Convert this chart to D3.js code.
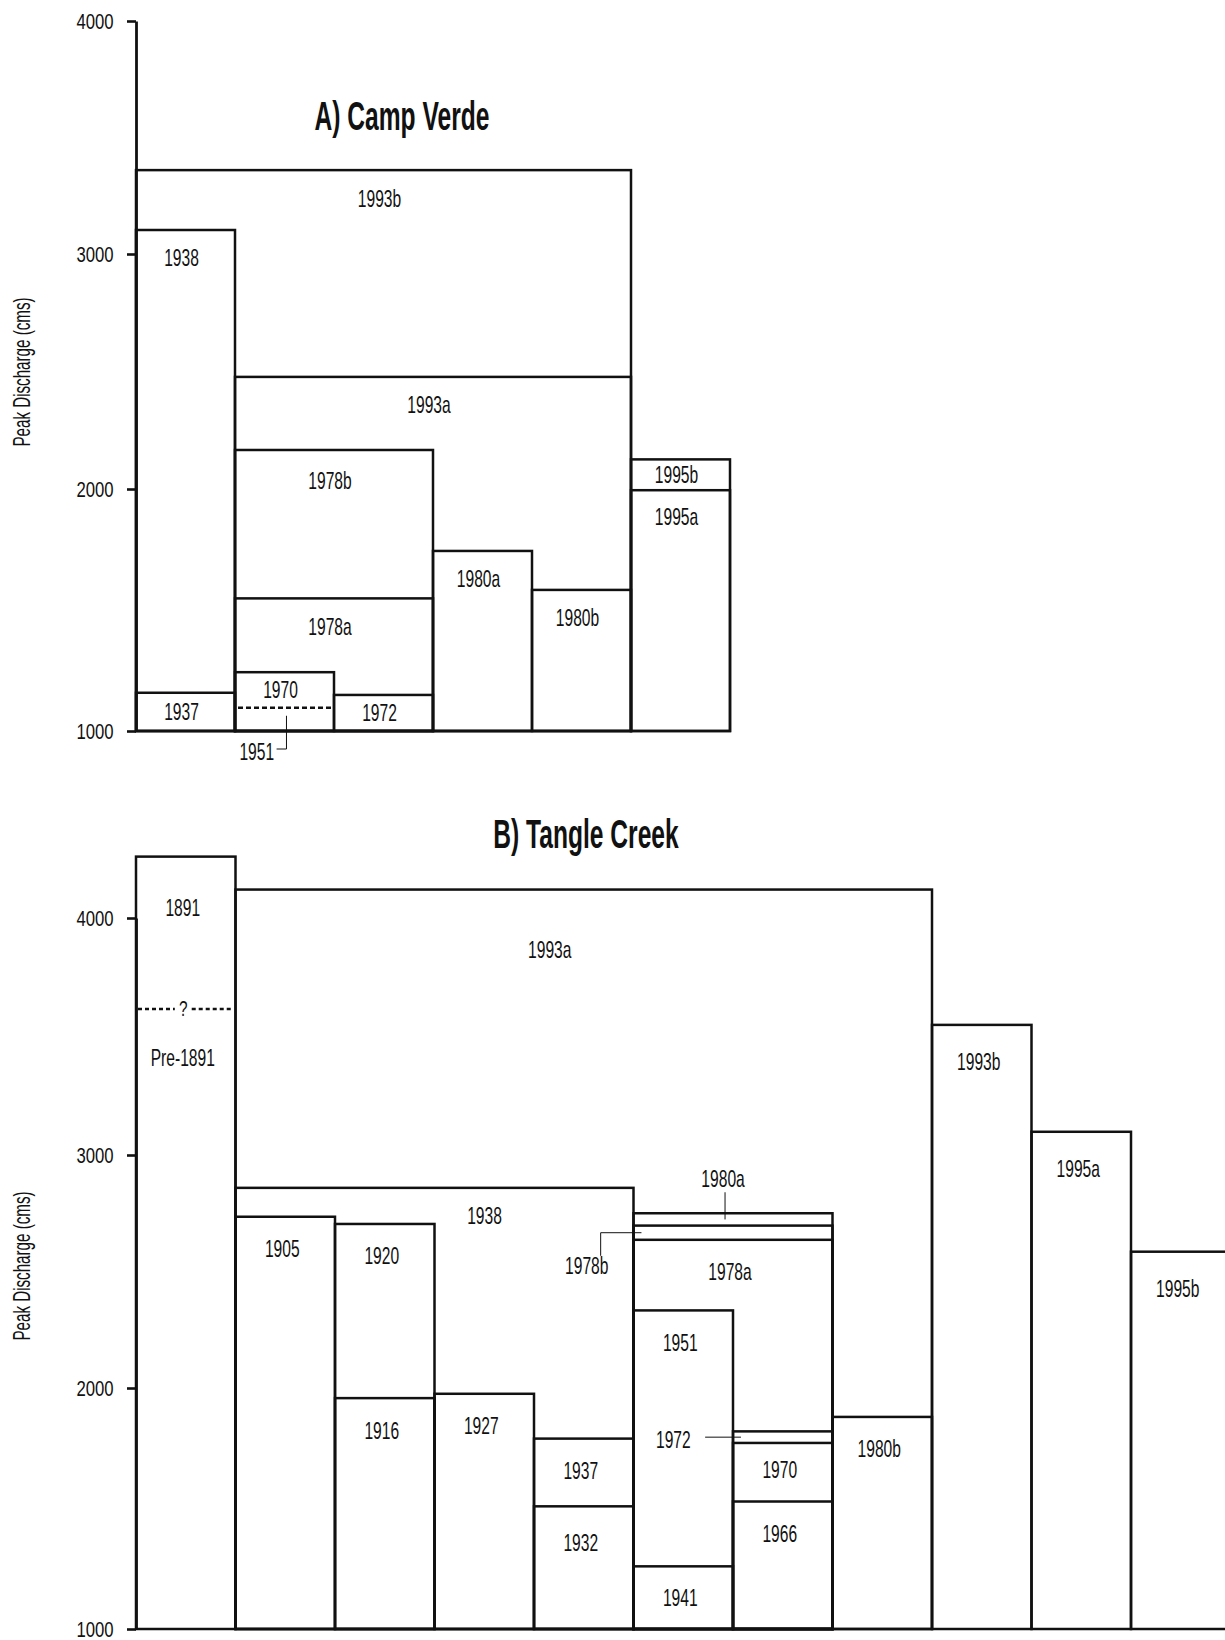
<!DOCTYPE html>
<meta charset="utf-8">
<script src="https://d3js.org/d3.v7.min.js"></script>
<style>
  body { margin: 0; background: #fff; }
  text { font-family: "Liberation Sans", Arial, sans-serif; fill: #111; }
</style>
<div id="my_dataviz"></div>
<script>

// y ticks, same for both panels
var tickVals = [1000, 2000, 3000, 4000];

// A) Camp Verde : flood, first column, last column (exclusive), peak discharge (cms)
var cvNames = ["1993b", "1938", "1993a", "1978b", "1995b", "1995a", "1980a", "1980b", "1978a", "1970", "1972", "1937", "1951"];
var cvFrom  = [0, 0, 1, 1, 5, 5, 3, 4, 1, 1, 2, 0, 1];
var cvTo    = [5, 1, 5, 3, 6, 6, 4, 5, 3, 2, 3, 1, 2];
var cvPeak  = [3360, 3103, 2477, 2166, 2126, 1995, 1744, 1583, 1548, 1243, 1149, 1158, 1096];
var cvDashed = ["1951"];

// B) Tangle Creek
var tcNames = ["1891", "Pre-1891", "1993a", "1938", "1905", "1920", "1916", "1927", "1937", "1932", "1951", "1941",
               "1978a", "1978b", "1980a", "1972", "1970", "1966", "1980b", "1993b", "1995a", "1995b"];
var tcFrom  = [0, 0, 1, 1, 1, 2, 2, 3, 4, 4, 5, 5, 5, 5, 5, 6, 6, 6, 7, 8, 9, 10];
var tcTo    = [1, 1, 8, 5, 2, 3, 3, 4, 5, 5, 6, 6, 7, 7, 7, 7, 7, 7, 8, 9, 10, 11];
var tcPeak  = [4259, 3616, 4120, 2859, 2735, 2704, 1958, 1976, 1790, 1509, 2333, 1260,
               2636, 2697, 2750, 1820, 1772, 1529, 1880, 3549, 3098, 2585];
var tcDashed = ["Pre-1891"];

var svg = d3.select("#my_dataviz")
  .append("svg")
    .attr("width", 1225)
    .attr("height", 1640);

// condensed text helper
function txt(g, x, y, s, size, sx, opts) {
  opts = opts || {};
  return g.append("text")
    .attr("transform", "translate(" + x + "," + y + ")" + (opts.rotate ? " rotate(" + opts.rotate + ")" : "") + " scale(" + sx + ",1)")
    .attr("text-anchor", opts.anchor || "middle")
    .attr("dy", opts.dy == null ? "0.35em" : opts.dy)
    .style("font-size", size + "px")
    .style("font-weight", opts.bold ? "bold" : "normal")
    .text(s);
}

var LBL = 24, LSX = 0.65;   // box label size / horizontal squeeze

function build(names, from, to, peak, dashed) {
  var ev = names.map(function(n, i) {
    return {name: n, from: from[i], to: to[i], peak: peak[i], dashed: dashed.indexOf(n) >= 0};
  });
  // value of the next line below each box (for label placement)
  ev.forEach(function(e) {
    var lower = 1000;
    ev.forEach(function(o) {
      if (o !== e && o.peak < e.peak && o.from < e.to && o.to > e.from) lower = Math.max(lower, o.peak);
    });
    e.lower = lower;
  });
  return ev;
}

function panel(ev, x, y, offset, dxAll, nudge, skip) {
  var g = svg.append("g");

  // boxes
  g.selectAll("rect.box")
    .data(ev.filter(function(d) { return !d.dashed; }))
    .enter()
    .append("rect")
      .attr("class", "box")
      .attr("x", function(d) { return x(d.from); })
      .attr("y", function(d) { return y(d.peak); })
      .attr("width", function(d) { return x(d.to) - x(d.from); })
      .attr("height", function(d) { return y(1000) - y(d.peak); })
      .style("fill", "none")
      .style("stroke", "#111")
      .style("stroke-width", 2.5);

  // labels
  ev.forEach(function(d) {
    if (skip.indexOf(d.name) >= 0) return;
    var top = y(d.peak), bot = y(d.lower);
    var ly = Math.min(top + offset, (top + bot) / 2);
    var lx = (x(d.from) + x(d.to)) / 2 + dxAll;
    var n = nudge[d.name] || [0, 0];
    txt(g, lx + n[0], ly + n[1], d.name, LBL, LSX);
  });

  // axis
  var ax = g.append("g")
    .attr("transform", "translate(" + x(0) + ",0)")
    .call(d3.axisLeft(y).tickValues(tickVals).tickSize(9).tickSizeOuter(0).tickPadding(12).tickFormat(d3.format("d")));
  ax.select(".domain").style("stroke", "#111").style("stroke-width", 2.8);
  ax.selectAll(".tick line").style("stroke", "#111").style("stroke-width", 2.6);
  ax.selectAll(".tick text")
    .attr("x", -29.5)
    .attr("transform", "scale(0.76,1)")
    .style("font-size", "22px")
    .style("font-family", "'Liberation Sans', Arial, sans-serif")
    .attr("fill", "#111");
  return g;
}

function leader(g, pts) {
  g.append("path")
    .attr("d", d3.line()(pts))
    .style("fill", "none")
    .style("stroke", "#111")
    .style("stroke-width", 1);
}

// ---------------- A) Camp Verde ----------------
var xA = d3.scaleLinear().domain([0, 6]).range([136, 730]);
var yA = d3.scaleLinear().domain(tickVals).range([731, 489, 254, 21]);
var evA = build(cvNames, cvFrom, cvTo, cvPeak, cvDashed);
var gA = panel(evA, xA, yA, 28, -4, {"1978b": [0, 3], "1995a": [0, -2]}, ["1951"]);

// 1951 dashed line + hooked label below the axis
var e51 = evA.filter(function(d) { return d.name == "1951"; })[0];
gA.append("line")
  .attr("x1", xA(e51.from) + 3).attr("x2", xA(e51.to) - 3)
  .attr("y1", yA(e51.peak)).attr("y2", yA(e51.peak))
  .style("stroke", "#111").style("stroke-width", 2.5).style("stroke-dasharray", "5,3");
txt(gA, xA(1.22), yA(1000) + 21, "1951", LBL, LSX);
leader(gA, [[xA(1.42), yA(1000) + 18], [xA(1.52), yA(1000) + 18], [xA(1.52), yA(e51.peak) + 8]]);

txt(svg, 402, 130, "A) Camp Verde", 41, 0.6, {bold: true, dy: 0});
txt(svg, 22, 372, "Peak Discharge (cms)", 23, 0.66, {rotate: -90});

// ---------------- B) Tangle Creek ----------------
var xB = d3.scaleLinear().domain([0, 11]).range([136, 1230.5]);
var yB = d3.scaleLinear().domain(tickVals).range([1629, 1388, 1155, 918]);
var evB = build(tcNames, tcFrom, tcTo, tcPeak, tcDashed);
var gB = panel(evB, xB, yB, 32, -3,
  {"1891": [0, 19], "Pre-1891": [0, 17], "1993a": [-31, 28], "1938": [53, 13], "1932": [0, 4], "1970": [0, -3],
   "1993b": [0, 5], "1995a": [0, 5], "1995b": [0, 5]},
  ["1972", "1980a", "1978b"]);

function peakB(n) { return evB.filter(function(d) { return d.name == n; })[0].peak; }

// Pre-1891 dashed line with "?"
var yPre = yB(peakB("Pre-1891"));
[[xB(0) + 2, xB(0.39)], [xB(0.56), xB(1) - 2]].forEach(function(s) {
  gB.append("line")
    .attr("x1", s[0]).attr("x2", s[1]).attr("y1", yPre).attr("y2", yPre)
    .style("stroke", "#111").style("stroke-width", 2.4).style("stroke-dasharray", "4,3");
});
txt(gB, xB(0.475), yPre + 7, "?", 22, 0.7, {dy: 0});

// 1972 with horizontal leader
var y72 = (yB(peakB("1972")) + yB(peakB("1970"))) / 2;
txt(gB, xB(5.4), y72 + 2, "1972", LBL, LSX);
leader(gB, [[xB(5.72), y72], [xB(6.08), y72]]);

// 1980a with vertical leader
var y80 = (yB(peakB("1980a")) + yB(peakB("1978b"))) / 2;
txt(gB, xB(5.9), yB(peakB("1980a")) - 35, "1980a", LBL, LSX);
leader(gB, [[xB(5.92), yB(peakB("1980a")) - 21], [xB(5.92), y80]]);

// 1978b with elbow leader
var y78 = (yB(peakB("1978b")) + yB(peakB("1978a"))) / 2;
txt(gB, xB(4.53), yB(peakB("1978a")) + 26, "1978b", LBL, LSX);
leader(gB, [[xB(4.67), yB(peakB("1978a")) + 16], [xB(4.67), y78], [xB(5.08), y78]]);

txt(svg, 586, 848, "B) Tangle Creek", 41, 0.6, {bold: true, dy: 0});
txt(svg, 22, 1266, "Peak Discharge (cms)", 23, 0.66, {rotate: -90});

</script>
